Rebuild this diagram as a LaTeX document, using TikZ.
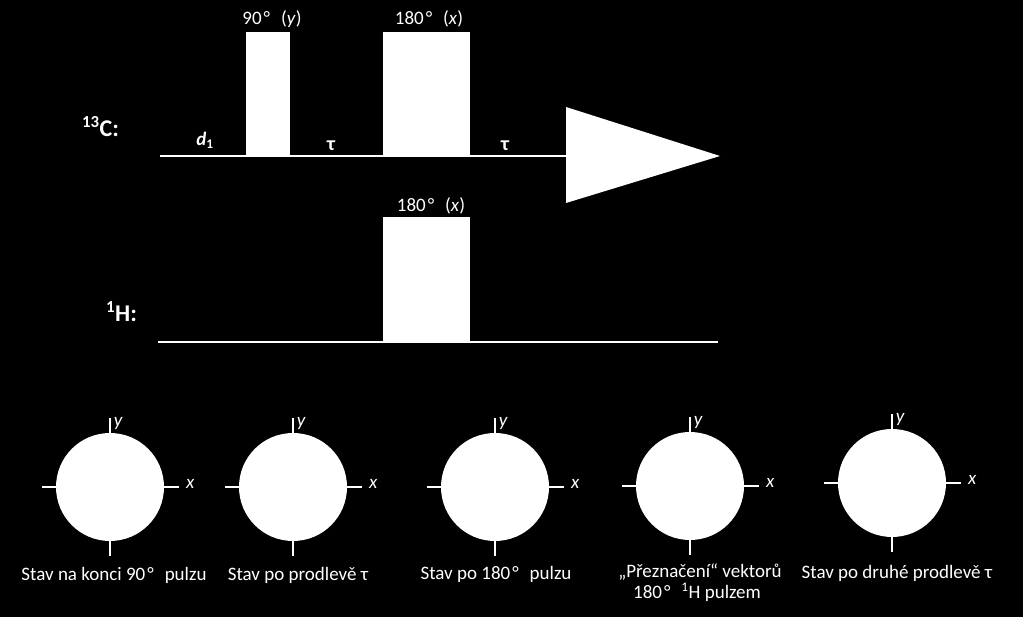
\documentclass[tikz,border=0pt]{standalone}
\usepackage{fontspec}
\setmainfont{Carlito}
\newcommand{\degsp}{\hspace{2pt}°\hspace{11pt}}
\begin{document}
\begin{tikzpicture}[x=1pt,y=-1pt,
  lbl/.style={text=white, inner sep=0pt, font=\fontsize{19}{21}\selectfont, anchor=base},
  nuc/.style={text=white, inner sep=0pt, font=\fontsize{24}{26}\selectfont\bfseries, anchor=base west},
  wline/.style={draw=white, line width=2pt},
  pulse/.style={fill=white, draw=none},
  disc/.style={circle, fill=white, draw=none, minimum size=108pt, inner sep=0pt},
  tickmark/.style={draw=white, line width=2pt},
  ax/.style={text=white, inner sep=0pt, font=\fontsize{19}{20}\selectfont\itshape}]
\useasboundingbox[fill=black] (0,0) rectangle (1023,617);

% ---- 13C channel
\coordinate (cst) at (160,156);
\coordinate (fid) at (566,156);
\draw[wline] (cst) -- (fid);
\fill[pulse] (246,32) rectangle (290,157);
\fill[pulse] (383,32) rectangle (470,157);
\fill[pulse] (566,107) -- (720,156) -- (566,203) -- cycle;
\node[nuc] (nC) at (82,137) {\textsuperscript{13}C:};
\node[lbl, font=\fontsize{19}{21}\selectfont\bfseries] (d1) at (205,146) {\textit{d}\textsubscript{1}};
\node[lbl, font=\fontsize{20}{21}\selectfont\bfseries] (tau1) at (331,151) {τ};
\node[lbl, font=\fontsize{20}{21}\selectfont\bfseries] (tau2) at (505,151) {τ};
\node[lbl] (p90) at (272,25) {90\degsp(\textit{y})};
\node[lbl] (p180c) at (429,25) {180\degsp(\textit{x})};

% ---- 1H channel
\coordinate (hst) at (158,342);
\coordinate (hen) at (718,342);
\draw[wline] (hst) -- (hen);
\fill[pulse] (383,217) rectangle (470,343);
\node[nuc] (nH) at (106,322) {\textsuperscript{1}H:};
\node[lbl] (p180h) at (431,212) {180\degsp(\textit{x})};

% ---- vector diagrams
\foreach \i/\cx/\cy in {1/110/487, 2/293/487, 3/495/487, 4/690/486, 5/892/483} {
  \node[disc] (c\i) at (\cx,\cy) {};
  \draw[tickmark] (c\i.north) -- ++(0,-15);
  \draw[tickmark] (c\i.south) -- ++(0,15);
  \draw[tickmark] (c\i.west) -- ++(-14,0);
  \draw[tickmark] (c\i.east) -- ++(15,0);
  \node[ax] (y\i) at ([shift={(8,-9)}]c\i.north) {y};
  \node[ax] (x\i) at ([shift={(26,-3)}]c\i.east) {x};
}

\node[lbl] (cap1) at (114,580) {Stav na konci 90\degsp pulzu};
\node[lbl] (cap2) at (298,580) {Stav po prodlevě τ};
\node[lbl] (cap3) at (496,579) {Stav po 180\degsp pulzu};
\node[lbl] (cap4a) at (700,577) {„Přeznačení“ vektorů};
\node[lbl] (cap4b) at (697,598) {180\degsp\textsuperscript{1}H pulzem};
\node[lbl] (cap5) at (897,578) {Stav po druhé prodlevě τ};
\end{tikzpicture}
\end{document}
